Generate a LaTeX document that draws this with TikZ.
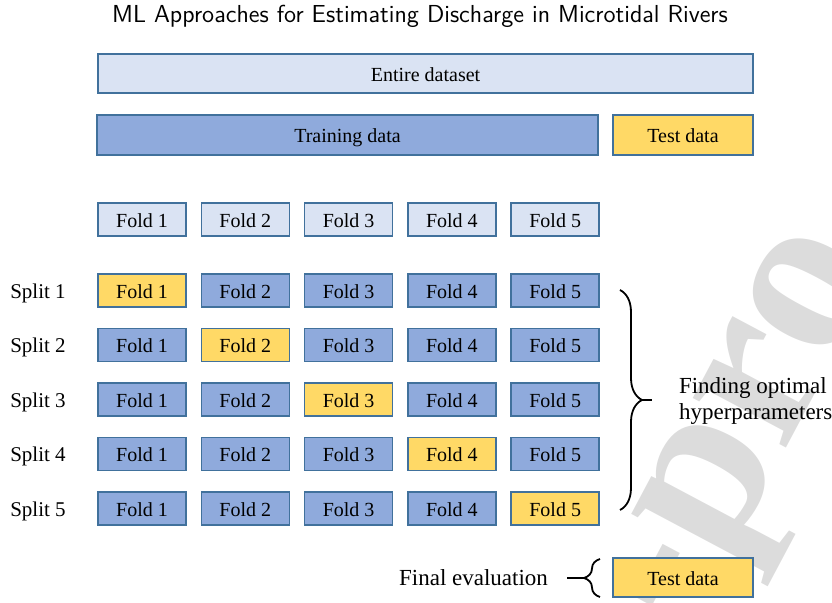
\documentclass[tikz,border=0pt]{standalone}
\usepackage{fontspec}
\setmainfont{Liberation Serif}
\usetikzlibrary{decorations.pathreplacing}

\definecolor{lightfill}{HTML}{DAE3F3}
\definecolor{midfill}{HTML}{8FAADC}
\definecolor{testfill}{HTML}{FFD966}
\definecolor{edgeblue}{HTML}{41719C}
\definecolor{markgray}{HTML}{DCDCDC}

\begin{document}
\begin{tikzpicture}[x=0.5pt,y=-0.5pt,
        box/.style={draw=edgeblue,line width=0.75pt,inner sep=0pt,text height=8.5pt,text depth=0.5pt,font=\fontsize{10}{12}\selectfont},
        fold/.style={box,minimum width=44pt,minimum height=16.5pt},
        note/.style={font=\fontsize{11.5}{13}\selectfont},
        curly/.style={decorate,decoration={brace,amplitude=#1},line width=0.9pt}]
        \useasboundingbox (0,0) rectangle (832,603);

        % watermark
        \begin{scope}
            \clip (0,0) rectangle (832,603);
            \node[rotate=62,text=markgray,font=\fontsize{115}{115}\selectfont\bfseries] (mark) at (759,436) {-pro};
        \end{scope}

        % title
        \node[font=\sffamily\fontsize{12.3}{14}\selectfont] (title) at (420,16) {ML Approaches for Estimating Discharge in Microtidal Rivers};

        % data
        \node[box,fill=lightfill,minimum width=327.5pt,minimum height=19.5pt] (all) at (425.5,73.5) {Entire dataset};
        \node[box,fill=midfill,minimum width=250.5pt,minimum height=20pt] (train) at (347.5,135) {Training data};
        \node[box,fill=testfill,minimum width=70pt,minimum height=20pt] (test) at (683,135) {Test data};

        % folds
        \foreach \f in {1,...,5}
            \node[fold,fill=lightfill] (fold0\f) at ({142+103.3*(\f-1)},219.5) {Fold \f};

        % splits
        \foreach \s in {1,...,5} {
            \node[text height=8.5pt,text depth=0.5pt,font=\fontsize{10.5}{12}\selectfont] (split\s) at (38,{290.5+54.5*(\s-1)}) {Split \s};
            \foreach \f in {1,...,5} {
                \ifnum\s=\f \def\foldcol{testfill}\else \def\foldcol{midfill}\fi
                \node[fold,fill=\foldcol] (fold\s\f) at ({142+103.3*(\f-1)},{290.5+54.5*(\s-1)}) {Fold \f};
            }
        }

        % hyperparameters
        \draw[curly=11pt] (620,290) -- (620,510);
        \coordinate (tip1) at (642,400);
        \coordinate (end1) at (652,400);
        \draw[line width=0.9pt] (tip1) -- (end1);
        \node[note,anchor=west,align=left] (hyper) at (672,401) {Finding optimal\\hyperparameters};

        % final evaluation
        \node[box,fill=testfill,minimum width=70pt,minimum height=19.5pt] (final) at (683,577.5) {Test data};
        \draw[curly=8pt] (600,597) -- (600,559);
        \coordinate (tip2) at (584,578);
        \coordinate (end2) at (567,578);
        \draw[line width=0.9pt] (end2) -- (tip2);
        \node[note,anchor=east] (eval) at (555,578) {Final evaluation};
    \end{tikzpicture}
\end{document}
